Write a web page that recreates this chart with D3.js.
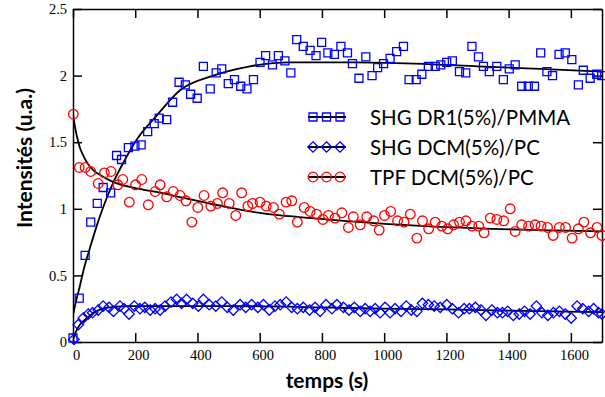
<!DOCTYPE html>
<html>
<head>
<meta charset="utf-8">
<script src="https://cdn.jsdelivr.net/npm/d3@7"></script>
<style>
  body { margin: 0; background: #fff; }
  .axis path, .axis line { stroke: #000; stroke-width: 1.5; }
  .title { font-family: "Comic Sans MS", Lato, sans-serif; fill: #000; }
</style>
</head>
<body>
<div id="vis"></div>
<script>
// SHG DR1(5%)/PMMA (squares)
var dr1Time = [0, 20, 39, 57, 78, 97, 121, 140, 156, 178, 199, 219, 240, 261, 277, 301, 320, 341, 361, 378,
    399, 419, 441, 460, 478, 499, 519, 539, 559, 580, 601, 619, 641, 660, 681, 700, 719, 740, 762, 781,
    799, 819, 840, 861, 882, 898, 919, 941, 961, 979, 998, 1019, 1040, 1062, 1080, 1103, 1121, 1142, 1164, 1182,
    1201, 1219, 1242, 1262, 1282, 1303, 1319, 1338, 1362, 1383, 1402, 1421, 1442, 1463, 1483, 1503, 1523, 1541, 1562, 1582,
    1603, 1624, 1640, 1662, 1683, 1699];
var dr1Val = [0.03, 0.33, 0.65, 0.90, 1.04, 1.16, 1.12, 1.40, 1.37, 1.46, 1.47, 1.48, 1.58, 1.64, 1.68, 1.67, 1.80, 1.95, 1.93, 1.86,
    1.83, 2.07, 1.90, 2.02, 2.05, 1.94, 1.97, 1.92, 1.90, 1.97, 2.10, 2.15, 2.08, 2.15, 2.11, 2.02, 2.27, 2.22, 2.19, 2.15,
    2.25, 2.17, 2.16, 2.22, 2.17, 2.09, 1.98, 2.14, 2.00, 2.06, 2.09, 2.13, 2.18, 2.22, 1.97, 1.97, 2.01, 2.07, 2.07, 2.08,
    2.10, 2.11, 2.03, 2.02, 2.22, 2.14, 2.07, 2.03, 2.07, 1.97, 2.05, 2.08, 1.92, 1.92, 1.92, 2.17, 2.03, 2.00, 2.16, 2.17,
    2.12, 1.93, 2.04, 1.98, 2.01, 2.00];

// SHG DCM(5%)/PC (diamonds)
var dcmTime = [3, 17, 33, 49, 63, 81, 97, 116, 130, 151, 164, 180, 197, 215, 231, 248, 264, 280, 296, 315,
    333, 349, 365, 385, 403, 419, 438, 459, 478, 496, 515, 537, 555, 574, 594, 612, 631, 649, 666, 685,
    703, 721, 740, 760, 778, 794, 813, 832, 848, 869, 887, 904, 923, 939, 955, 971, 987, 1003, 1019, 1035,
    1054, 1071, 1087, 1105, 1123, 1142, 1161, 1180, 1201, 1219, 1239, 1257, 1274, 1293, 1311, 1327, 1346, 1364, 1380, 1397,
    1415, 1434, 1451, 1469, 1489, 1507, 1526, 1544, 1563, 1582, 1601, 1620, 1638, 1657, 1673, 1689, 1700];
var dcmVal = [0.02, 0.13, 0.18, 0.21, 0.22, 0.24, 0.27, 0.26, 0.23, 0.27, 0.25, 0.21, 0.27, 0.25, 0.26, 0.24, 0.25, 0.24, 0.27, 0.30,
    0.32, 0.29, 0.32, 0.29, 0.27, 0.32, 0.28, 0.27, 0.30, 0.26, 0.24, 0.28, 0.26, 0.28, 0.26, 0.28, 0.24, 0.27, 0.28, 0.30,
    0.26, 0.25, 0.26, 0.24, 0.26, 0.23, 0.28, 0.25, 0.28, 0.26, 0.24, 0.26, 0.23, 0.25, 0.23, 0.25, 0.22, 0.26, 0.22, 0.25,
    0.23, 0.27, 0.24, 0.23, 0.29, 0.28, 0.27, 0.26, 0.28, 0.25, 0.22, 0.25, 0.25, 0.26, 0.24, 0.20, 0.24, 0.22, 0.22, 0.23,
    0.20, 0.21, 0.23, 0.21, 0.27, 0.22, 0.20, 0.22, 0.23, 0.21, 0.18, 0.27, 0.25, 0.23, 0.25, 0.22, 0.21];

// TPF DCM(5%)/PC (circles)
var tpfTime = [1, 20, 39, 57, 81, 101, 122, 144, 160, 181, 201, 221, 242, 264, 280, 301, 322, 344, 363, 382,
    401, 421, 443, 464, 481, 502, 523, 542, 562, 577, 601, 621, 644, 663, 685, 703, 721, 743, 762, 783,
    803, 821, 842, 864, 885, 901, 923, 944, 966, 984, 1001, 1021, 1043, 1064, 1084, 1105, 1123, 1143, 1164, 1185,
    1204, 1223, 1242, 1263, 1282, 1304, 1321, 1341, 1362, 1384, 1405, 1421, 1442, 1464, 1485, 1504, 1525, 1543, 1563, 1583,
    1604, 1624, 1642, 1663, 1684, 1700];
var tpfVal = [1.71, 1.31, 1.31, 1.28, 1.19, 1.27, 1.28, 1.18, 1.22, 1.05, 1.18, 1.22, 1.03, 1.13, 1.18, 1.09, 1.13, 1.10, 1.06, 0.90,
    1.01, 1.10, 1.02, 1.04, 1.12, 1.04, 0.95, 1.12, 1.02, 1.04, 1.05, 1.02, 1.01, 0.96, 1.05, 1.06, 0.90, 1.01, 0.98, 0.96,
    0.92, 0.95, 0.93, 0.97, 0.86, 0.94, 0.88, 0.94, 0.91, 0.84, 0.95, 0.98, 0.91, 0.90, 0.96, 0.78, 0.91, 0.85, 0.90, 0.87,
    0.85, 0.88, 0.90, 0.91, 0.87, 0.87, 0.82, 0.93, 0.92, 0.91, 1.00, 0.83, 0.88, 0.87, 0.88, 0.87, 0.86, 0.80, 0.86, 0.86,
    0.78, 0.85, 0.90, 0.82, 0.86, 0.80];

// fitted curves
var fitDr1Time = [0, 10, 20, 35, 55, 76, 100, 130, 165, 205, 269, 344, 451, 569, 700, 900, 1100, 1300, 1500, 1700];
var fitDr1Val = [0.20, 0.31, 0.40, 0.55, 0.71, 0.87, 1.03, 1.20, 1.36, 1.52, 1.70, 1.89, 2.00, 2.07, 2.10, 2.10, 2.09, 2.07, 2.05, 2.03];
var fitDcmTime = [0, 10, 22, 40, 55, 75, 97, 120, 140, 180, 250, 500, 800, 1000, 1200, 1400, 1700];
var fitDcmVal = [0.02, 0.08, 0.13, 0.17, 0.20, 0.23, 0.25, 0.26, 0.265, 0.27, 0.27, 0.27, 0.26, 0.25, 0.245, 0.235, 0.225];
var fitTpfTime = [0, 6, 12, 22, 33, 50, 65, 90, 130, 190, 258, 340, 419, 500, 569, 667, 767, 870, 982, 1131, 1346, 1500, 1700];
var fitTpfVal = [1.71, 1.62, 1.55, 1.46, 1.40, 1.33, 1.29, 1.25, 1.20, 1.16, 1.13, 1.09, 1.05, 1.01, 0.98, 0.95, 0.93, 0.91, 0.89, 0.87, 0.85, 0.84, 0.83];

var xTicks = [0, 200, 400, 600, 800, 1000, 1200, 1400, 1600];
var yTicks = [0, 0.5, 1, 1.5, 2, 2.5];
var yTickLabels = ['0', '0.5', '1', '1.5', '2', '2.5'];
var legendLabels = ['SHG DR1(5%)/PMMA', 'SHG DCM(5%)/PC', 'TPF DCM(5%)/PC'];

var zip = function(t, v) { return t.map(function(d, i) { return [d, v[i]]; }); };

var svg = d3.select('#vis').append('svg')
    .attr('width', 605)
    .attr('height', 397);

var margin = { left: 73, top: 9, right: 3, bottom: 55 };
var width = 605 - margin.left - margin.right;
var height = 397 - margin.top - margin.bottom;

var xScale = d3.scaleLinear().domain([0, 1700]).range([margin.left, margin.left + width]);
var yScale = d3.scaleLinear().domain([0, 2.5]).range([margin.top + height, margin.top]);

svg.append('defs').append('clipPath').attr('id', 'plotclip')
    .append('rect')
    .attr('x', margin.left).attr('y', margin.top)
    .attr('width', width).attr('height', height);

var tickFont = function(sel) {
    sel.selectAll('text')
        .style('font-family', "'Liberation Serif', 'DejaVu Serif', serif")
        .style('font-size', '14.5px')
        .style('fill', '#000');
};

// axes, ticks pointing inward
svg.append('g').attr('class', 'axis')
    .attr('transform', 'translate(0,' + (margin.top + height) + ')')
    .call(d3.axisBottom(xScale).tickValues(xTicks).tickSizeInner(-9).tickSizeOuter(0).tickPadding(8)
        .tickFormat(d3.format('d')))
    .call(tickFont)
    .selectAll('text').attr('dx', 3);

svg.append('g').attr('class', 'axis')
    .attr('transform', 'translate(0,' + margin.top + ')')
    .call(d3.axisTop(xScale).tickValues(xTicks).tickSizeInner(-9).tickSizeOuter(0).tickFormat(''));

svg.append('g').attr('class', 'axis')
    .attr('transform', 'translate(' + margin.left + ',0)')
    .call(d3.axisLeft(yScale).tickValues(yTicks).tickSizeInner(-9).tickSizeOuter(0).tickPadding(6)
        .tickFormat(function(d, i) { return yTickLabels[i]; }))
    .call(tickFont);

svg.append('g').attr('class', 'axis')
    .attr('transform', 'translate(' + (margin.left + width) + ',0)')
    .call(d3.axisRight(yScale).tickValues(yTicks).tickSizeInner(-9).tickSizeOuter(0).tickFormat(''));

// fit curves
var line = d3.line()
    .x(function(d) { return xScale(d[0]); })
    .y(function(d) { return yScale(d[1]); })
    .curve(d3.curveMonotoneX);

var fits = [zip(fitDr1Time, fitDr1Val), zip(fitDcmTime, fitDcmVal), zip(fitTpfTime, fitTpfVal)];
svg.append('g').attr('clip-path', 'url(#plotclip)')
    .selectAll('path').data(fits).enter().append('path')
    .attr('d', line)
    .attr('fill', 'none')
    .attr('stroke', '#000')
    .attr('stroke-width', 1.8);

// markers
var squarePath = function(s) { return 'M' + (-s) + ',' + (-s) + 'H' + s + 'V' + s + 'H' + (-s) + 'Z'; };
var diamondPath = function(s) { return 'M0,' + (-s) + 'L' + s + ',0L0,' + s + 'L' + (-s) + ',0Z'; };
var circlePath = function(r) { return 'M' + (-r) + ',0A' + r + ',' + r + ' 0 1,0 ' + r + ',0A' + r + ',' + r + ' 0 1,0 ' + (-r) + ',0Z'; };

var series = [
    { pts: zip(dr1Time, dr1Val), shape: squarePath(4), color: '#0000ff' },
    { pts: zip(dcmTime, dcmVal), shape: diamondPath(5.2), color: '#0000ff' },
    { pts: zip(tpfTime, tpfVal), shape: circlePath(4.8), color: '#ff0000' }
];

series.forEach(function(s) {
    svg.append('g').selectAll('path').data(s.pts).enter().append('path')
        .attr('transform', function(d) { return 'translate(' + xScale(d[0]) + ',' + yScale(d[1]) + ')'; })
        .attr('d', s.shape)
        .attr('fill', 'none')
        .attr('stroke', s.color)
        .attr('stroke-width', 1.3);
});

// legend
var legend = svg.append('g').attr('transform', 'translate(308,117)');
series.forEach(function(s, i) {
    var row = legend.append('g').attr('transform', 'translate(0,' + (i * 30) + ')');
    row.append('line').attr('x1', 0).attr('x2', 38).attr('y1', 0).attr('y2', 0)
        .attr('stroke', '#000').attr('stroke-width', 1.8);
    [5, 18.5, 32].forEach(function(mx) {
        row.append('path').attr('transform', 'translate(' + mx + ',0)')
            .attr('d', s.shape).attr('fill', 'none')
            .attr('stroke', s.color).attr('stroke-width', 1.3);
    });
    row.append('text').attr('class', 'title')
        .attr('x', 62).attr('y', 7.5)
        .style('font-size', '20.5px')
        .text(legendLabels[i]);
});

// axis titles
svg.append('text').attr('class', 'title')
    .attr('x', 327).attr('y', 388)
    .style('text-anchor', 'middle')
    .style('font-size', '21px')
    .style('font-weight', 'bold')
    .text('temps (s)');

svg.append('text').attr('class', 'title')
    .attr('transform', 'translate(32,158)rotate(-90)')
    .style('text-anchor', 'middle')
    .style('font-size', '21px')
    .style('font-weight', 'bold')
    .text('Intensités (u.a.)');
</script>
</body>
</html>
